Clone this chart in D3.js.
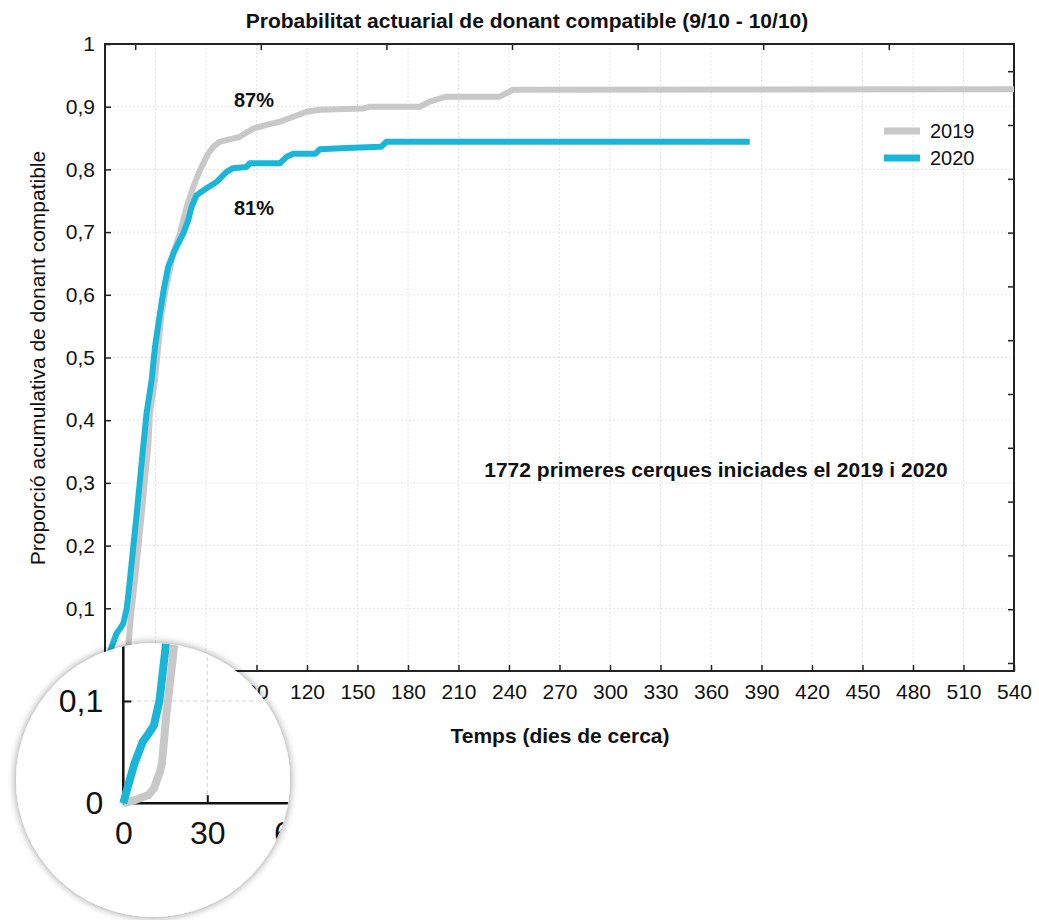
<!DOCTYPE html>
<html>
<head>
<meta charset="utf-8">
<script src="https://cdn.jsdelivr.net/npm/d3@7"></script>
<style>
  body { margin: 0; background: #fff; }
  svg { display: block; font-family: "Liberation Sans", Arial, sans-serif; }
</style>
</head>
<body>
<svg id="chart" width="1039" height="920"></svg>
<script>
// dades llegides del gràfic (dies, proporció)
var dies2019 = [0, 4, 9, 11, 13, 13.8, 15.5, 17.8, 19.8, 21.8, 23.7, 25.7, 26.7, 29.7, 31.6, 33.6, 36.5, 40.5, 44.5, 48.5, 52.4, 56.4, 61.3, 64.3, 68, 80.1, 88, 96, 103.9, 111.8, 119.7, 127.6, 153.3, 157.3, 187, 192.9, 202.8, 234.4, 242.3, 540];
var prop2019 = [0, 0.003, 0.008, 0.015, 0.03, 0.039, 0.09, 0.145, 0.198, 0.25, 0.305, 0.358, 0.411, 0.464, 0.517, 0.57, 0.615, 0.666, 0.698, 0.74, 0.772, 0.799, 0.825, 0.836, 0.844, 0.852, 0.865, 0.871, 0.876, 0.884, 0.892, 0.895, 0.897, 0.9, 0.9, 0.908, 0.916, 0.916, 0.927, 0.928];

var dies2020 = [0, 2, 4, 6.9, 9, 10.9, 12.9, 14.8, 16.8, 18.8, 20.8, 22.7, 24.7, 27.7, 29.7, 32.6, 35, 37.6, 40.5, 42.5, 46.5, 49.4, 51.4, 54.4, 60.3, 66.3, 72.2, 76, 84, 86, 104, 107.8, 111.8, 125, 127.6, 143.4, 164, 167.2, 383];
var prop2020 = [0, 0.02, 0.039, 0.06, 0.068, 0.076, 0.1, 0.145, 0.198, 0.25, 0.305, 0.358, 0.411, 0.464, 0.517, 0.57, 0.61, 0.645, 0.665, 0.677, 0.698, 0.719, 0.74, 0.759, 0.77, 0.78, 0.796, 0.802, 0.804, 0.81, 0.81, 0.82, 0.825, 0.825, 0.832, 0.834, 0.836, 0.844, 0.844];

var anys = ["2019", "2020"];
var colors = ["#c8c8c8", "#1ab6d9"];
var xTicks = d3.range(0, 541, 30);
var yTicks = d3.range(0, 1.001, 0.1);
// ticks que es veuen dins la lupa
var xTicksLupa = [0, 30, 60];
var yTicksLupa = [0, 0.1];

var series = [
  dies2019.map(function(d, i) { return [d, prop2019[i]]; }),
  dies2020.map(function(d, i) { return [d, prop2020[i]]; })
];

var fmt = function(d) { return d3.format(".1f")(d).replace(".", ",").replace(/^0,0$/, "0").replace(/^1,0$/, "1"); };

var svg = d3.select("#chart");
var L = 105, R = 1014, T = 44, B = 671;

var x = d3.scaleLinear().domain([0, 540]).range([L, R]);
var y = d3.scaleLinear().domain([0, 1]).range([B, T]);

// graella
svg.append("g").selectAll("line")
  .data(xTicks.slice(1, -1)).enter().append("line")
  .attr("x1", d => x(d)).attr("x2", d => x(d)).attr("y1", T).attr("y2", B)
  .attr("stroke", "#e4e4e4").attr("stroke-dasharray", "2,2");
svg.append("g").selectAll("line")
  .data(yTicks.slice(1, -1)).enter().append("line")
  .attr("y1", d => y(d)).attr("y2", d => y(d)).attr("x1", L).attr("x2", R)
  .attr("stroke", "#e4e4e4").attr("stroke-dasharray", "2,2");

// eixos
var xAxis = d3.axisBottom(x).tickValues(xTicks).tickSizeInner(-6).tickSizeOuter(0).tickPadding(13);
var gx = svg.append("g").attr("transform", "translate(0," + B + ")").call(xAxis);
var yAxis = d3.axisLeft(y).tickValues(yTicks).tickFormat(fmt).tickSizeInner(-6).tickSizeOuter(0).tickPadding(10);
var gy = svg.append("g").attr("transform", "translate(" + L + ",0)").call(yAxis);
[gx, gy].forEach(function(g) {
  g.select(".domain").remove();
  g.selectAll("line").attr("stroke", "#222").attr("stroke-width", 1.5);
  g.selectAll("text").attr("fill", "#111").style("font-size", "21px").style("font-family", "Liberation Sans, Arial, sans-serif");
});

// marques de dalt i de la dreta
var topTicks = d3.range(0, 7).map(i => 135.7 + i * 125.6);
svg.append("g").selectAll("line").data(topTicks).enter().append("line")
  .attr("x1", d => d).attr("x2", d => d).attr("y1", T).attr("y2", T + 6)
  .attr("stroke", "#222").attr("stroke-width", 1.5);
var rightTicks = d3.range(0, 12).map(i => 71.7 + i * 53.8);
svg.append("g").selectAll("line").data(rightTicks).enter().append("line")
  .attr("y1", d => d).attr("y2", d => d).attr("x1", R - 6).attr("x2", R)
  .attr("stroke", "#222").attr("stroke-width", 1.5);

svg.append("rect").attr("x", L).attr("y", T).attr("width", R - L).attr("height", B - T)
  .attr("fill", "none").attr("stroke", "#222").attr("stroke-width", 2);

// corbes
var line = d3.line().x(d => x(d[0])).y(d => y(d[1]));
svg.append("g").selectAll("path").data(series).enter().append("path")
  .attr("d", line).attr("fill", "none")
  .attr("stroke", (d, i) => colors[i]).attr("stroke-width", 6)
  .attr("stroke-linejoin", "round");

// textos
svg.append("text").attr("x", 527).attr("y", 28).attr("text-anchor", "middle")
  .style("font-weight", "bold").style("font-size", "21px").attr("fill", "#111")
  .text("Probabilitat actuarial de donant compatible (9/10 - 10/10)");
svg.append("text").attr("x", 560).attr("y", 743).attr("text-anchor", "middle")
  .style("font-weight", "bold").style("font-size", "21px").attr("fill", "#111")
  .text("Temps (dies de cerca)");
svg.append("text").attr("transform", "translate(45,358) rotate(-90)").attr("text-anchor", "middle")
  .style("font-size", "21px").attr("fill", "#111")
  .text("Proporció acumulativa de donant compatible");
svg.append("text").attr("x", 716).attr("y", 477).attr("text-anchor", "middle")
  .style("font-weight", "bold").style("font-size", "21px").attr("fill", "#111")
  .text("1772 primeres cerques iniciades el 2019 i 2020");
svg.append("text").attr("x", 234).attr("y", 107).style("font-weight", "bold").style("font-size", "20px").attr("fill", "#111").text("87%");
svg.append("text").attr("x", 234).attr("y", 215).style("font-weight", "bold").style("font-size", "20px").attr("fill", "#111").text("81%");

// llegenda
var leg = svg.append("g").selectAll("g").data(anys).enter().append("g")
  .attr("transform", (d, i) => "translate(884," + (131 + i * 27) + ")");
leg.append("line").attr("x1", 0).attr("x2", 36).attr("stroke", (d, i) => colors[i]).attr("stroke-width", 7);
leg.append("text").attr("x", 46).attr("dy", "0.35em").style("font-size", "20px").attr("fill", "#111").text(d => d);

// lupa
var cx = 153, cy = 780, r = 137;
var defs = svg.append("defs");
defs.append("clipPath").attr("id", "lupa").append("circle").attr("cx", cx).attr("cy", cy).attr("r", r);
var f = defs.append("filter").attr("id", "ombra").attr("x", "-20%").attr("y", "-20%").attr("width", "140%").attr("height", "140%");
f.append("feGaussianBlur").attr("in", "SourceAlpha").attr("stdDeviation", 4);
f.append("feComponentTransfer").append("feFuncA").attr("type", "linear").attr("slope", 0.45);
var fm = f.append("feMerge");
fm.append("feMergeNode");
fm.append("feMergeNode").attr("in", "SourceGraphic");

svg.append("circle").attr("cx", cx).attr("cy", cy).attr("r", r).attr("fill", "#fff").attr("filter", "url(#ombra)");

var xi = d3.scaleLinear().domain([0, 30]).range([123.3, 207.3]);
var yi = d3.scaleLinear().domain([0, 0.1]).range([803.3, 701]);
var inset = svg.append("g").attr("clip-path", "url(#lupa)");
var xMaxLupa = xi.invert(cx + r), yMaxLupa = yi.invert(cy - r);

inset.append("g").selectAll("line").data(xTicksLupa.slice(1)).enter().append("line")
  .attr("x1", d => xi(d)).attr("x2", d => xi(d)).attr("y1", yi(yMaxLupa)).attr("y2", yi(0))
  .attr("stroke", "#d4d4d4").attr("stroke-dasharray", "4,3");
inset.append("g").selectAll("line").data(yTicksLupa.slice(1)).enter().append("line")
  .attr("y1", d => yi(d)).attr("y2", d => yi(d)).attr("x1", xi(0)).attr("x2", xi(xMaxLupa))
  .attr("stroke", "#d4d4d4").attr("stroke-dasharray", "4,3");

var iax = d3.axisBottom(xi).tickValues(xTicksLupa).tickSizeInner(-8).tickSizeOuter(0).tickPadding(18);
var iay = d3.axisLeft(yi).tickValues(yTicksLupa).tickFormat(fmt).tickSizeInner(-8).tickSizeOuter(0).tickPadding(20);
var gix = inset.append("g").attr("transform", "translate(0," + yi(0) + ")").call(iax);
var giy = inset.append("g").attr("transform", "translate(" + xi(0) + ",0)").call(iay);
[gix, giy].forEach(function(g) {
  g.select(".domain").remove();
  g.selectAll("line").attr("stroke", "#111").attr("stroke-width", 2);
  g.selectAll("text").attr("fill", "#111").style("font-size", "32px").style("font-family", "Liberation Sans, Arial, sans-serif");
});
// línies d'eix fins a la vora de la lupa
inset.append("line").attr("x1", xi(0)).attr("x2", xi(0)).attr("y1", yi(0)).attr("y2", yi(yMaxLupa))
  .attr("stroke", "#111").attr("stroke-width", 2.5);
inset.append("line").attr("x1", xi(0)).attr("x2", xi(xMaxLupa)).attr("y1", yi(0)).attr("y2", yi(0))
  .attr("stroke", "#111").attr("stroke-width", 2.5);

var iline = d3.line().x(d => xi(d[0])).y(d => yi(d[1]));
inset.append("g").selectAll("path").data(series).enter().append("path")
  .attr("d", iline).attr("fill", "none")
  .attr("stroke", (d, i) => colors[i]).attr("stroke-width", 8)
  .attr("stroke-linejoin", "round");
</script>
</body>
</html>
